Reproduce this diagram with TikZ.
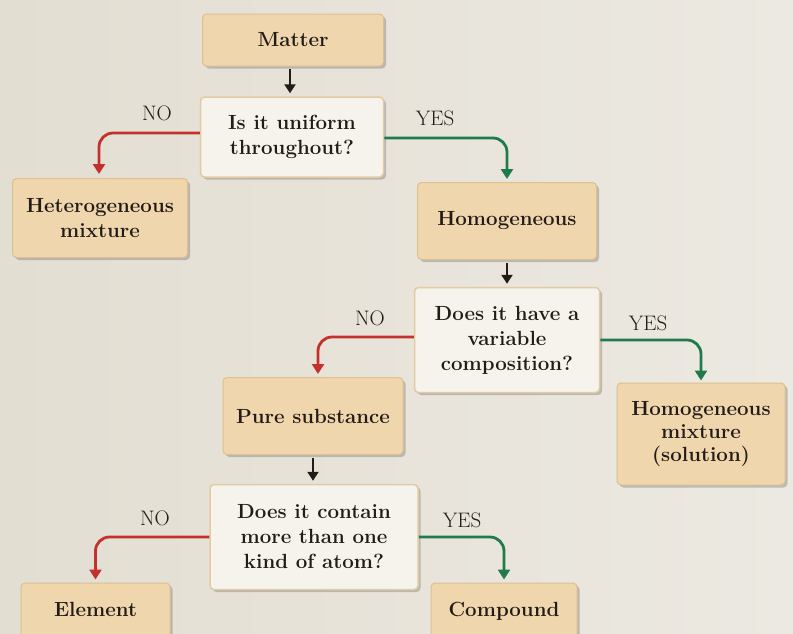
\documentclass[tikz,border=0pt]{standalone}
\usetikzlibrary{shadows,arrows.meta}
\definecolor{pagebg}{HTML}{ECE9E2}
\definecolor{pagebgL}{HTML}{E3DED2}
\definecolor{tanfill}{HTML}{F0D6AC}
\definecolor{tanedge}{HTML}{DDBF90}
\definecolor{qfill}{HTML}{F6F3ED}
\definecolor{qedge}{HTML}{E2CBA3}
\definecolor{noRed}{HTML}{C4302B}
\definecolor{yesGreen}{HTML}{1F7A4C}
\definecolor{ink}{HTML}{221B18}
\begin{document}
\begin{tikzpicture}[x=1pt,y=-1pt,
  boxbase/.style={rectangle, rounded corners=4pt, align=center, text=ink,
    font=\fontsize{20.5}{25}\selectfont\bfseries, inner sep=0pt,
    drop shadow={shadow xshift=2.5pt, shadow yshift=-2.5pt, opacity=0.35, fill=black!60}},
  result/.style={boxbase, fill=tanfill, draw=tanedge, line width=1pt},
  question/.style={boxbase, fill=qfill, draw=qedge, line width=1.5pt},
  ans/.style={font=\fontsize{21}{22}\selectfont, text=ink, inner sep=0pt},
  flow/.style={ink, line width=2.4pt, -{Triangle[width=11pt,length=9pt]}},
  noline/.style={noRed, line width=2.8pt, rounded corners=14pt, -{Triangle[width=12pt,length=10pt]}},
  yesline/.style={yesGreen, line width=2.8pt, rounded corners=14pt, -{Triangle[width=12pt,length=10pt]}}
]
\useasboundingbox (0,0) rectangle (793,633);
\shade[left color=pagebgL, right color=pagebg] (0,0) rectangle (793,633);

\node[result, minimum width=181pt, minimum height=52pt] (matter) at (293,40) {Matter};
\node[question, minimum width=183pt, minimum height=80pt] (q1) at (292,137) {Is it uniform\\throughout?};
\node[result, minimum width=175pt, minimum height=79pt] (het) at (100,218) {Heterogeneous\\mixture};
\node[result, minimum width=179pt, minimum height=77pt] (hom) at (507,221) {Homogeneous};
\node[question, minimum width=185pt, minimum height=105pt] (q2) at (507,340) {Does it have a\\variable\\composition?};
\node[result, minimum width=180pt, minimum height=77pt] (pure) at (313,416) {Pure substance};
\node[result, minimum width=168pt, minimum height=102pt, font=\fontsize{20.5}{23}\selectfont\bfseries] (hm) at (701,434) {Homogeneous\\mixture\\(solution)};
\node[question, minimum width=208pt, minimum height=105pt] (q3) at (314,537) {Does it contain\\more than one\\kind of atom?};
\node[result, anchor=base, minimum width=149pt, text height=33pt, text depth=30pt] (elem) at (95.5,616) {Element};
\node[result, anchor=base, minimum width=146pt, text height=33pt, text depth=30pt] (comp) at (504,616) {Compound};

\node[ans] (no1) at (157,113) {NO};
\node[ans] (yes1) at (435,118) {YES};
\node[ans] (no2) at (370,318) {NO};
\node[ans] (yes2) at (648,323) {YES};
\node[ans] (no3) at (155,518) {NO};
\node[ans] (yes3) at (462,520) {YES};

\draw[flow, shorten <=2pt, shorten >=3pt] ([xshift=-3pt]matter.south) -- ([xshift=-3pt]matter.south |- q1.north);
\draw[flow, shorten <=3pt, shorten >=3pt] (hom.south) -- (hom.south |- q2.north);
\draw[flow, shorten <=3pt, shorten >=3pt] (pure.south) -- (pure.south |- q3.north);

\draw[noline, shorten >=4pt] ([yshift=4pt]q1.west) -| ([xshift=-1pt]het.north);
\draw[yesline, shorten >=3pt] ([yshift=-1pt]q1.east) -| (hom.north);
\draw[noline, shorten >=3pt] ([yshift=3pt]q2.west) -| ([xshift=5pt]pure.north);
\draw[yesline, shorten >=2pt] (q2.east) -| (hm.north);
\draw[noline, shorten >=3pt] (q3.west) -| (elem.north);
\draw[yesline, shorten >=3pt] (q3.east) -| (comp.north);
\end{tikzpicture}
\end{document}
